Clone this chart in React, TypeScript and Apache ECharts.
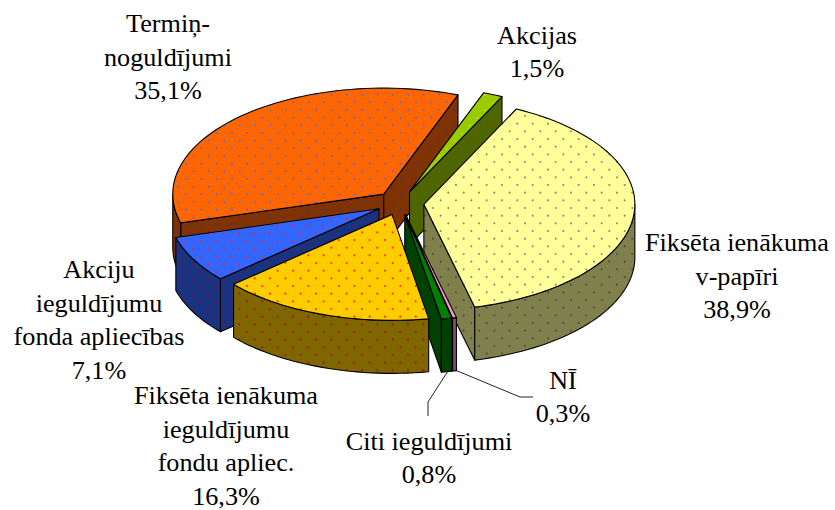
import React, { useEffect, useRef } from "react";
import * as echarts from "echarts";

const categories = [
  "Fiksēta ienākuma\nv-papīri",
  "NĪ",
  "Citi ieguldījumi",
  "Fiksēta ienākuma\nieguldījumu\nfondu apliec.",
  "Akciju\nieguldījumu\nfonda apliecības",
  "Termiņ-\nnoguldījumi",
  "Akcijas",
];
const shares = [38.9, 0.3, 0.8, 16.3, 7.1, 35.1, 1.5];
const shareLabels = ["38,9%", "0,3%", "0,8%", "16,3%", "7,1%", "35,1%", "1,5%"];
const topColors = ["#FFFF99", "#FF99CC", "#008000", "#FFCC00", "#3366FF", "#FF6600", "#99CC00"];
const wallColors = ["#80804D", "#804D66", "#004000", "#806600", "#1A3380", "#803300", "#4D6600"];
const dotColors = ["#8C8C80", null, null, "#FF3300", "#F0203A", "#5470D8", "#E8C800"];
const wallDotColors = ["#4D4D55", null, null, "#A01800", "#80103A", "#40386C", "#6C6000"];
const dotPhases = [[525, 116], null, null, [339, 240], [216, 272], [255, 110], [485, 95]];
const drawOrder = [5, 6, 0, 4, 1, 2, 3];

const labelCenters = [
  [737, 276], [563, 397], [429, 458], [226, 446], [99, 320], [168, 57], [537, 52],
];

const CX = 400, CY = 203, RX = 211, RY = 106, DEPTH = 53, EXPLODE = 24, START = 26;
const TILE = 46 / 3;

function dotPattern(bg: string, dot: string | null, phase: number[] | null) {
  if (!dot || !phase) return bg;
  const c = document.createElement("canvas");
  c.width = 46; c.height = 46;
  const g = c.getContext("2d")!;
  g.fillStyle = bg; g.fillRect(0, 0, 46, 46);
  g.fillStyle = dot;
  const px = phase[0] % TILE, py = phase[1] % TILE;
  for (let i = -1; i <= 3; i++) {
    for (let j = -1; j <= 3; j++) {
      [[0, 0], [TILE / 2, TILE / 2]].forEach(([dx, dy]) => {
        g.beginPath();
        g.arc(px + i * TILE + dx, py + j * TILE + dy, 1.05, 0, Math.PI * 2);
        g.fill();
      });
    }
  }
  return { image: c, repeat: "repeat" } as any;
}

const total = shares.reduce((a, b) => a + b, 0);
const starts: number[] = [];
shares.reduce((acc, v, i) => { starts[i] = acc; return acc + (v / total) * 360; }, START);

const rad = (d: number) => (d * Math.PI) / 180;

export default function App() {
  const ref = useRef<HTMLDivElement>(null);
  useEffect(() => {
    const chart = echarts.init(ref.current!, undefined, { renderer: "svg" });
    const tops = topColors.map((c, i) => dotPattern(c, dotColors[i], dotPhases[i]));
    const walls = wallColors.map((c, i) => dotPattern(c, wallDotColors[i], dotPhases[i]));

    const renderItem = (_p: any, api: any) => {
      const idx = api.value(1) as number;
      const value = api.value(0) as number;
      const a0 = starts[idx];
      const a1 = a0 + (value / total) * 360;
      const mid = rad((a0 + a1) / 2);
      const ax = CX + EXPLODE * Math.sin(mid);
      const ay = CY - (EXPLODE * Math.cos(mid) * RY) / RX;
      const pt = (deg: number, drop = 0) => [
        ax + RX * Math.sin(rad(deg)),
        ay - RY * Math.cos(rad(deg)) + drop,
      ];
      const arc = (from: number, to: number, drop = 0) => {
        const n = Math.max(2, Math.ceil((to - from) / 2));
        const out: number[][] = [];
        for (let i = 0; i <= n; i++) out.push(pt(from + ((to - from) * i) / n, drop));
        return out;
      };
      const stroke = { stroke: "#000", lineWidth: 1.1, lineJoin: "round" };
      const poly = (points: number[][], fill: any) => ({
        type: "polygon", shape: { points }, style: { fill, ...stroke }, silent: true,
      });
      const children: any[] = [];
      if (Math.sin(rad(a0)) < 0) {
        const p = pt(a0), q = pt(a0, DEPTH);
        children.push(poly([[ax, ay], p, q, [ax, ay + DEPTH]], walls[idx]));
      }
      if (Math.sin(rad(a1)) > 0) {
        const p = pt(a1), q = pt(a1, DEPTH);
        children.push(poly([[ax, ay], p, q, [ax, ay + DEPTH]], walls[idx]));
      }
      const w0 = Math.max(a0, 90), w1 = Math.min(a1, 270);
      if (w1 > w0) {
        children.push(poly([...arc(w0, w1), ...arc(w0, w1, DEPTH).reverse()], walls[idx]));
      }
      children.push(poly([[ax, ay], ...arc(a0, a1)], tops[idx]));
      return { type: "group", children };
    };

    const line = (points: number[][]) => ({
      type: "polyline", shape: { points }, style: { stroke: "#222", lineWidth: 1, fill: "none" }, silent: true,
    });

    chart.setOption({
      animation: false,
      backgroundColor: "#fff",
      series: [{
        type: "custom",
        coordinateSystem: "none",
        silent: true,
        renderItem,
        data: drawOrder.map((i) => [shares[i], i]),
      }],
      graphic: [
        line([[448, 371], [428, 402], [428, 416]]),
        line([[455, 370], [520, 397], [533, 397]]),
        ...categories.map((name, i) => ({
          type: "text",
          x: labelCenters[i][0],
          y: labelCenters[i][1],
          silent: true,
          style: {
            text: `${name}\n${shareLabels[i]}`,
            fill: "#000",
            font: '26.2px "Times New Roman", "Liberation Serif", serif',
            lineHeight: 33.6,
            align: "center",
            verticalAlign: "middle",
          },
        })),
      ],
    });
    return () => chart.dispose();
  }, []);
  return <div ref={ref} style={{ position: "fixed", left: 0, top: 0, width: 835, height: 510 }} />;
}
